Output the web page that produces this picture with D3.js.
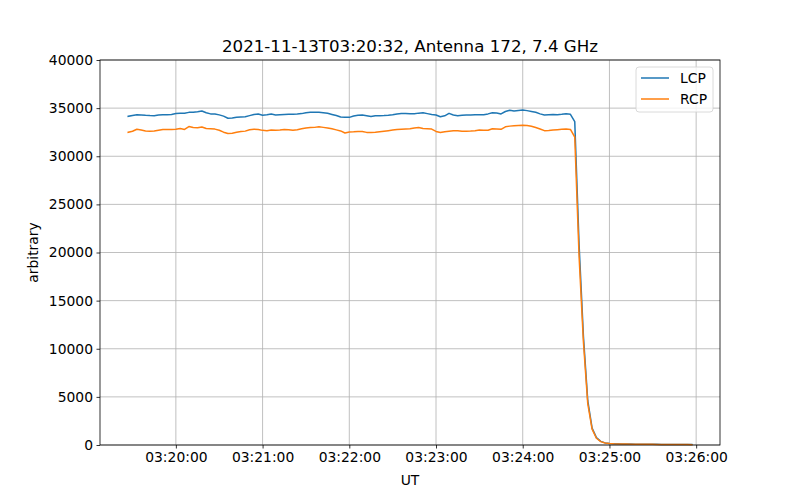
<!DOCTYPE html>
<html>
<head>
<meta charset="utf-8">
<script src="https://cdn.jsdelivr.net/npm/d3@7"></script>
<style>
  body { margin: 0; background: #fff; }
  text { font-family: "DejaVu Sans", sans-serif; }
</style>
</head>
<body>
<div id="chart"></div>
<script>
// samples every 3 s starting at 03:19:27 UT
var startTime = "2021-11-13T03:19:27Z";
var stepSeconds = 3;

var lcp = [
  34150, 34240, 34310, 34280, 34250, 34230, 34220, 34280, 34320, 34320,
  34330, 34450, 34480, 34460, 34560, 34560, 34620, 34700, 34520, 34400,
  34390, 34300, 34170, 33950, 33970, 34050, 34080, 34100, 34220, 34330,
  34380, 34270, 34300, 34380, 34290, 34310, 34340, 34360, 34370, 34380,
  34430, 34530, 34560, 34560, 34560, 34510, 34460, 34340, 34230, 34080,
  34060, 34040, 34180, 34260, 34280, 34200, 34120, 34210, 34220, 34230,
  34250, 34300, 34380, 34430, 34450, 34410, 34420, 34480, 34520, 34430,
  34340, 34280, 34100, 34200, 34460, 34280, 34200, 34260, 34290, 34290,
  34300, 34320, 34320, 34400, 34520, 34500, 34400, 34650, 34770, 34700,
  34760, 34800, 34740, 34660, 34570, 34400, 34280, 34310, 34340, 34320,
  34360, 34420, 34360, 33600, 20800, 11300, 4600, 1750, 760, 380,
  220, 160, 130, 120, 110, 100, 95, 90, 85, 80,
  75, 70, 65, 60, 55, 50, 50, 45, 45, 40,
  40
];

var rcp = [
  32490, 32600, 32800, 32720, 32620, 32610, 32620, 32700, 32790, 32790,
  32780, 32810, 32880, 32790, 33080, 32980, 32960, 33040, 32880, 32850,
  32820, 32700, 32500, 32360, 32400, 32490, 32560, 32610, 32750, 32810,
  32790, 32690, 32640, 32730, 32700, 32720, 32780, 32760, 32700, 32750,
  32850, 32940, 32990, 33000, 33060, 33000, 32940, 32850, 32740, 32630,
  32420, 32520, 32540, 32580, 32580, 32480, 32480, 32500, 32550, 32600,
  32660, 32720, 32790, 32815, 32840, 32860, 32940, 32980, 32880, 32865,
  32820, 32580, 32460, 32540, 32590, 32640, 32650, 32600, 32600, 32620,
  32660, 32720, 32710, 32700, 32860, 32830, 32800, 33060, 33130, 33160,
  33190, 33230, 33200, 33120, 32980, 32830, 32660, 32680, 32720, 32760,
  32800, 32840, 32780, 32000, 19600, 10700, 4300, 1650, 700, 350,
  200, 150, 120, 110, 100, 95, 90, 85, 80, 75,
  70, 65, 60, 55, 50, 50, 45, 45, 40, 40,
  35
];

var yTicks = [0, 5000, 10000, 15000, 20000, 25000, 30000, 35000, 40000];
var seriesNames = ["LCP", "RCP"];
var seriesColors = ["#1f77b4", "#ff7f0e"];
var title = "2021-11-13T03:20:32, Antenna 172, 7.4 GHz";

var margin = {top: 60, right: 80, bottom: 55, left: 100},
    width = 800 - margin.left - margin.right,
    height = 500 - margin.top - margin.bottom;

var t0 = new Date(startTime);
function toRows(values) {
    return values.map(function(v, i) {
        return {time: new Date(t0.getTime() + i * stepSeconds * 1000), value: v};
    });
}
var series = [toRows(lcp), toRows(rcp)];

// x domain with matplotlib style 5% padding
var ext = d3.extent(series[0], function(d) { return d.time; });
var pad = (ext[1] - ext[0]) * 0.05;
var x = d3.scaleUtc()
    .domain([new Date(ext[0].getTime() - pad), new Date(ext[1].getTime() + pad)])
    .range([0, width]);
var y = d3.scaleLinear().domain([0, 40000]).range([height, 0]);

var svg = d3.select("#chart")
    .append("svg")
        .attr("width", 800)
        .attr("height", 500)
    .append("g")
        .attr("transform", "translate(" + margin.left + "," + margin.top + ")");

var xTicks = x.ticks(d3.utcMinute.every(1));

// grid
svg.append("g").selectAll("line").data(xTicks).enter().append("line")
    .attr("x1", function(d) { return x(d); }).attr("x2", function(d) { return x(d); })
    .attr("y1", 0).attr("y2", height)
    .attr("stroke", "#b0b0b0").attr("stroke-width", 0.8);
svg.append("g").selectAll("line").data(yTicks).enter().append("line")
    .attr("x1", 0).attr("x2", width)
    .attr("y1", function(d) { return y(d); }).attr("y2", function(d) { return y(d); })
    .attr("stroke", "#b0b0b0").attr("stroke-width", 0.8);

// lines
var valueline = d3.line()
    .x(function(d) { return x(d.time); })
    .y(function(d) { return y(d.value); });

series.forEach(function(data, i) {
    svg.append("path")
        .datum(data)
        .attr("fill", "none")
        .attr("stroke", seriesColors[i])
        .attr("stroke-width", 1.5)
        .attr("stroke-linejoin", "round")
        .attr("stroke-linecap", "square")
        .attr("d", valueline);
});

// axes
var xAxis = svg.append("g")
    .attr("transform", "translate(0," + height + ")")
    .call(d3.axisBottom(x).tickValues(xTicks).tickFormat(d3.utcFormat("%H:%M:%S"))
        .tickSizeInner(3.5).tickSizeOuter(0).tickPadding(3.5));
var yAxis = svg.append("g")
    .call(d3.axisLeft(y).tickValues(yTicks).tickFormat(d3.format("d"))
        .tickSizeInner(3.5).tickSizeOuter(0).tickPadding(3.5));
[xAxis, yAxis].forEach(function(a) {
    a.select(".domain").remove();
    a.selectAll(".tick line").attr("stroke", "#000").attr("stroke-width", 0.8);
    a.selectAll(".tick text").attr("fill", "#000")
        .style("font-size", "13.89px").style("font-family", "DejaVu Sans");
});

// frame
svg.append("rect")
    .attr("x", 0).attr("y", 0).attr("width", width).attr("height", height)
    .attr("fill", "none").attr("stroke", "#000").attr("stroke-width", 0.8);

// title and labels
svg.append("text")
    .attr("x", width / 2).attr("y", -8)
    .attr("text-anchor", "middle")
    .style("font-size", "16.67px")
    .text(title);
svg.append("text")
    .attr("x", width / 2).attr("y", height + 40)
    .attr("text-anchor", "middle")
    .style("font-size", "13.89px")
    .text("UT");
svg.append("text")
    .attr("transform", "translate(-62," + (height / 2) + ") rotate(-90)")
    .attr("text-anchor", "middle")
    .style("font-size", "13.89px")
    .text("arbitrary");

// legend
var legend = svg.append("g").attr("transform", "translate(" + (width - 84) + ",7)");
legend.append("rect")
    .attr("width", 77).attr("height", 45).attr("rx", 3)
    .attr("fill", "#fff").attr("fill-opacity", 0.8)
    .attr("stroke", "#d0d0d0").attr("stroke-width", 0.8);
seriesNames.forEach(function(name, i) {
    var ly = 11 + i * 21;
    legend.append("line")
        .attr("x1", 5).attr("x2", 33).attr("y1", ly).attr("y2", ly)
        .attr("stroke", seriesColors[i]).attr("stroke-width", 1.5);
    legend.append("text")
        .attr("x", 44).attr("y", ly)
        .attr("dominant-baseline", "central")
        .style("font-size", "13.89px")
        .text(name);
});
</script>
</body>
</html>
